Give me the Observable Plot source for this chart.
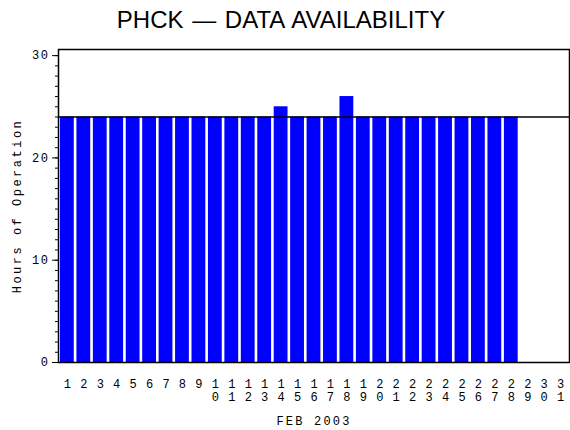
<!DOCTYPE html>
<html><head><meta charset="utf-8">
<script src="https://cdn.jsdelivr.net/npm/d3@7"></script>
<script src="https://cdn.jsdelivr.net/npm/@observablehq/plot@0.6"></script>
<style>
body{margin:0;background:#fff;width:570px;height:430px;overflow:hidden}
#title{height:40px;width:570px;text-align:center;font-family:"Liberation Sans",Arial,sans-serif;font-size:24px;line-height:40px;color:#000;}
#title span{display:inline-block;word-spacing:2px;margin-right:8px}
#chart svg text{letter-spacing:1.6px}
#chart svg g[aria-label="x-axis tick label"] text{letter-spacing:0}
#chart svg g[aria-label="y-axis label"] text{letter-spacing:2.5px}
#chart svg g[aria-label="x-axis label"] text{letter-spacing:2.2px}
</style>
</head><body>
<div id="title"><span>PHCK — DATA AVAILABILITY</span></div>
<div id="chart"></div>
<script>
const days = [1,2,3,4,5,6,7,8,9,10,11,12,13,14,15,16,17,18,19,20,21,22,23,24,25,26,27,28,29,30,31];
const hours = [24,24,24,24,24,24,24,24,24,24,24,24,24,25,24,24,24,26,24,24,24,24,24,24,24,24,24,24];
const majorTicks = [0,10,20,30];
const refLine = [24];
const yLabel = "Hours of Operation";
const xLabel = "FEB 2003";

const data = hours.map((h,i) => ({day: days[i], hours: h}));

const plot = Plot.plot({
  width: 570, height: 390,
  marginTop: 9, marginLeft: 58, marginRight: 1, marginBottom: 68,
  style: {fontFamily: "'Liberation Mono', monospace", fontSize: "12px", color: "#000", background: "#fff"},
  x: {type: "band", domain: days, paddingInner: 0.16, paddingOuter: 0.12, round: false},
  y: {domain: [0, 30.6]},
  marks: [
    Plot.barY(data, {x: "day", y: "hours", fill: "#0000ff"}),
    Plot.ruleY(refLine, {stroke: "#000", strokeWidth: 1.5}),
    Plot.frame({stroke: "#000", strokeWidth: 1.5}),
    Plot.axisY({ticks: 30, tickSize: 3, text: null, label: null}),
    Plot.axisY({ticks: majorTicks, tickSize: 6, tickPadding: 3, label: yLabel,
      labelAnchor: "center", labelArrow: "none", labelOffset: 46}),
    Plot.axisX({tickSize: 0, tickPadding: 16, lineHeight: 1.1,
      tickFormat: d => String(d).split("").join("\n"),
      label: xLabel, labelAnchor: "center", labelArrow: "none", labelOffset: 62})
  ]
});
document.getElementById("chart").appendChild(plot);
</script>
</body></html>
